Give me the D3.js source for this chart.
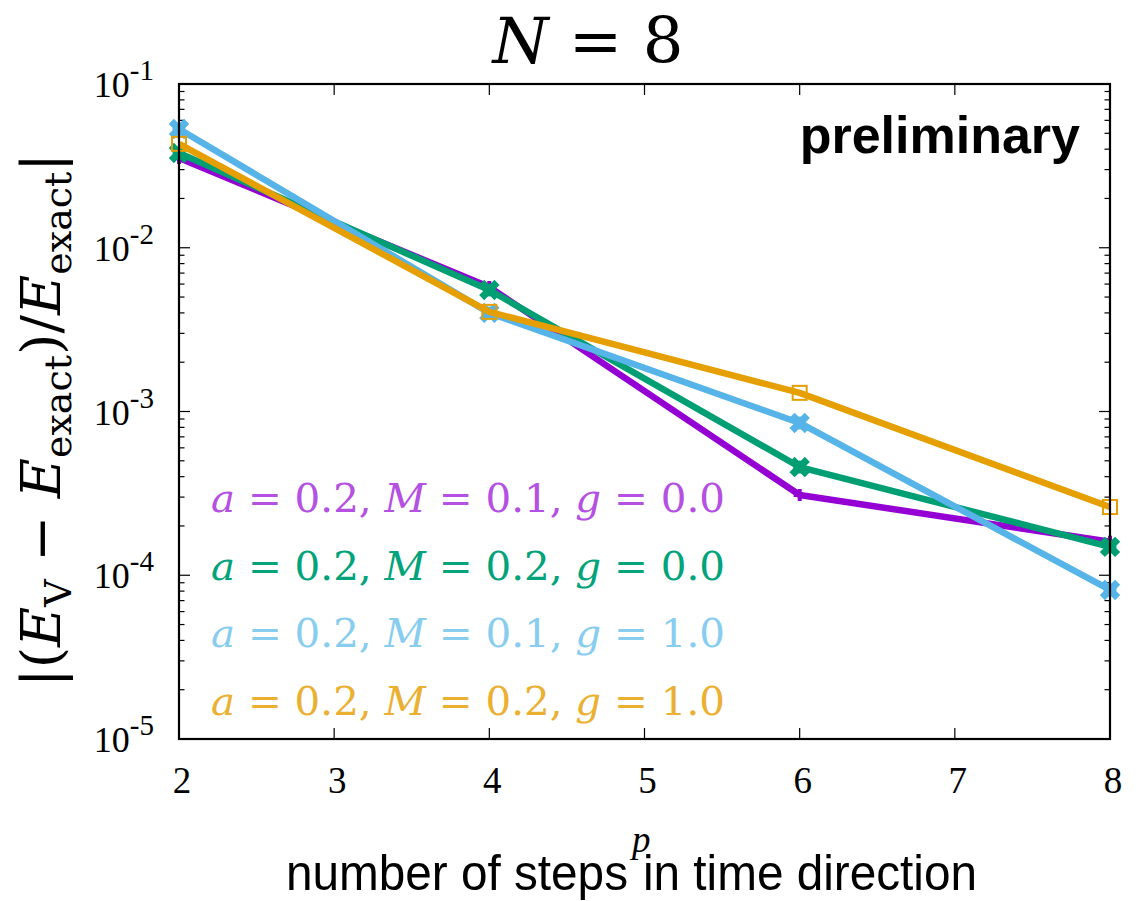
<!DOCTYPE html>
<html><head><meta charset="utf-8">
<script src="https://cdn.jsdelivr.net/npm/d3@7"></script>
<style>body{margin:0;background:#fff}svg{display:block}</style>
</head><body>
<script>
const steps = [2, 4, 6, 8];
const seriesNames = ["a=0.2,M=0.1,g=0.0","a=0.2,M=0.2,g=0.0","a=0.2,M=0.1,g=1.0","a=0.2,M=0.2,g=1.0"];
const purpleVals = [0.0353, 0.00575, 0.000309, 0.000160];
const greenVals  = [0.0379, 0.00552, 0.000458, 0.000149];
const blueVals   = [0.0531, 0.00400, 0.000851, 0.0000813];
const orangeVals = [0.0431, 0.00406, 0.00130, 0.000261];
const xTicks = [2,3,4,5,6,7,8];
const yTickExps = [-1,-2,-3,-4,-5];
const legendParts = [["0.2","0.1","0.0"],["0.2","0.2","0.0"],["0.2","0.1","1.0"],["0.2","0.2","1.0"]];

const W=1141,H=901;
const m={l:179,t:84,r:1110,b:739};
const svg=d3.select("body").append("svg").attr("width",W).attr("height",H);
const x=d3.scaleLinear().domain([2,8]).range([m.l,m.r]);
const y=d3.scaleLog().domain([1e-5,1e-1]).range([m.b,m.t]);

const lineColors=["#9400d3","#009e73","#56b4e9","#e69f00"];
const textColors=["#b450e2","#00a37a","#88cdf0","#ebb032"];
const allVals=[purpleVals,greenVals,blueVals,orangeVals];

// ticks
const g=svg.append("g").attr("stroke","#000");
xTicks.forEach(t=>{
  g.append("line").attr("x1",x(t)).attr("x2",x(t)).attr("y1",m.b).attr("y2",m.b-11).attr("stroke-width",1.2);
  g.append("line").attr("x1",x(t)).attr("x2",x(t)).attr("y1",m.t).attr("y2",m.t+11).attr("stroke-width",1.2);
});
for(let e=-5;e<=-2;e++){
  for(let k=1;k<=9;k++){
    const v=k*Math.pow(10,e);
    const len=k===1?11:5.5;
    g.append("line").attr("x1",m.l).attr("x2",m.l+len).attr("y1",y(v)).attr("y2",y(v)).attr("stroke-width",1.2);
    g.append("line").attr("x1",m.r).attr("x2",m.r-len).attr("y1",y(v)).attr("y2",y(v)).attr("stroke-width",1.2);
  }
}

// lines
const line=d3.line().x((d,i)=>x(steps[i])).y(d=>y(d));
allVals.forEach((vals,si)=>{
  svg.append("path").datum(vals).attr("d",line).attr("fill","none")
    .attr("stroke",lineColors[si]).attr("stroke-width",6.5).attr("stroke-linejoin","round");
  const mg=svg.append("g");
  vals.forEach((v,i)=>{
    const cx=x(steps[i]),cy=y(v);
    if(si===0){
      mg.append("path").attr("d",d3.symbol(d3.symbolCross,80)()).attr("transform",`translate(${cx},${cy})`).attr("fill",lineColors[si]);
    } else if(si===1||si===2){
      mg.append("path").attr("d",d3.symbol(d3.symbolCross,260)()).attr("transform",`translate(${cx},${cy}) rotate(45)`).attr("fill",lineColors[si]);
      mg.append("circle").attr("cx",cx).attr("cy",cy).attr("r",6.5).attr("fill",lineColors[si]);
    } else {
      mg.append("rect").attr("x",cx-7).attr("y",cy-7).attr("width",14).attr("height",14)
        .attr("fill","none").attr("stroke",lineColors[si]).attr("stroke-width",2);
    }
  });
});

// frame
svg.append("rect").attr("x",m.l).attr("y",m.t).attr("width",m.r-m.l).attr("height",m.b-m.t)
  .attr("fill","none").attr("stroke","#000").attr("stroke-width",2.2);

// x tick labels
xTicks.forEach(t=>{
  svg.append("text").attr("x",x(t)+3).attr("y",793).attr("text-anchor","middle")
    .attr("font-family","Liberation Serif").attr("font-size",37).text(t);
});
// y tick labels
yTickExps.forEach(e=>{
  const tx=svg.append("text").attr("x",154).attr("y",y(Math.pow(10,e))+13).attr("text-anchor","end")
    .attr("font-family","Liberation Serif").attr("font-size",36);
  tx.append("tspan").text("10");
  tx.append("tspan").attr("dy",-17).attr("font-size",29).text("-"+(-e));
});

// title
const tt=svg.append("text").attr("x",588).attr("y",63).attr("text-anchor","middle")
  .attr("font-family","DejaVu Serif").attr("font-size",64);
tt.append("tspan").attr("font-style","italic").text("N");
tt.append("tspan").text(" = 8");

// preliminary
svg.append("text").attr("x",1080).attr("y",153).attr("text-anchor","end")
  .attr("font-family","Liberation Sans").attr("font-weight","bold").attr("font-size",52).text("preliminary");

// legend
legendParts.forEach((p,i)=>{
  const t=svg.append("text").attr("x",211).attr("y",512+i*67.5)
    .attr("font-family","DejaVu Serif").attr("font-size",40).attr("fill",textColors[i])
    .attr("textLength",514).attr("lengthAdjust","spacingAndGlyphs");
  t.append("tspan").attr("font-style","italic").text("a");
  t.append("tspan").text(" = "+p[0]+", ");
  t.append("tspan").attr("font-style","italic").text("M");
  t.append("tspan").text(" = "+p[1]+", ");
  t.append("tspan").attr("font-style","italic").text("g");
  t.append("tspan").text(" = "+p[2]);
});

// x label (the p sits raised between "steps" and "in")
const xl=svg.append("text").attr("y",890).attr("font-family","Liberation Sans").attr("font-size",50);
xl.append("tspan").attr("x",286).attr("textLength",342).attr("lengthAdjust","spacingAndGlyphs").text("number of steps");
xl.append("tspan").attr("x",632).attr("dy",-38).attr("font-family","Liberation Serif").attr("font-style","italic").attr("font-size",37).text("p");
xl.append("tspan").attr("x",643).attr("dy",38).attr("textLength",334).attr("lengthAdjust","spacingAndGlyphs").text("in time direction");

// y label
const yl=svg.append("text").attr("transform","translate(60,420) rotate(-90)").attr("text-anchor","middle")
  .attr("font-family","DejaVu Serif").attr("font-size",55);
yl.append("tspan").text("|(");
yl.append("tspan").attr("font-style","italic").text("E");
yl.append("tspan").attr("font-size",38).attr("dy",11).text("V");
yl.append("tspan").attr("dy",-11).text(" − ");
yl.append("tspan").attr("font-style","italic").text("E");
yl.append("tspan").attr("font-size",38).attr("dy",11).text("exact");
yl.append("tspan").attr("dy",-11).text(")/");
yl.append("tspan").attr("font-style","italic").text("E");
yl.append("tspan").attr("font-size",38).attr("dy",11).text("exact");
yl.append("tspan").attr("dy",-11).text("|");
</script>
</body></html>
